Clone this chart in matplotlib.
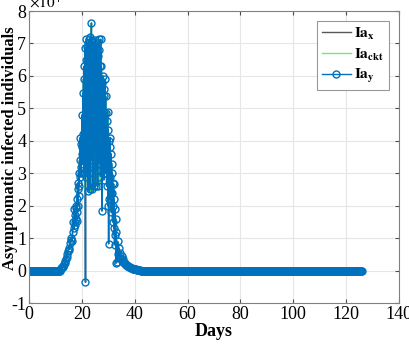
import numpy as np
import matplotlib
matplotlib.use("Agg")
import matplotlib.pyplot as plt

plt.rcParams['font.family'] = ['Liberation Serif', 'DejaVu Serif']
plt.rcParams['mathtext.fontset'] = 'stix'
plt.rcParams['axes.unicode_minus'] = False

# ---- data (units of 1e4 individuals) ----
baseline_before = [0.0] * 48          # days 0.00 .. 11.75 (every 0.25 day)
rise_y = [                            # days 12.00 .. 16.75 (every 0.25 day)
    0.05, 0.08, 0.10, 0.12, 0.15, 0.20, 0.22, 0.30,
    0.35, 0.50, 0.42, 0.60, 0.70, 0.65, 0.85, 0.95,
    1.00, 0.90, 1.20, 1.50,
]
peak_y = [                            # days 17.000 .. 32.875 (every 0.125 day)
    1.30, 1.90, 1.50, 1.70, 1.40, 2.00, 1.60, 1.94,   # 17
    1.53, 2.20, 1.80, 2.70, 2.00, 2.50, 2.30, 3.00,   # 18
    2.60, 3.40, 2.90, 4.10, 3.20, 3.90, 3.00, 3.60,   # 19
    3.80, 4.80, 3.30, 5.47, 4.20, 5.90, 3.00, 6.30,   # 20
    4.00, 6.87, 3.50, -0.36, 6.50, 2.90, 7.13, 4.40,  # 21
    6.90, 3.20, 7.00, 2.46, 6.60, 4.10, 7.13, 3.00,   # 22
    6.80, 2.50, 7.20, 4.50, 6.90, 7.63, 3.40, 7.10,   # 23
    2.50, 6.70, 5.00, 7.05, 2.60, 6.40, 3.80, 7.10,   # 24
    4.60, 6.90, 2.60, 6.50, 5.40, 7.00, 3.10, 6.20,   # 25
    2.60, 6.60, 4.90, 7.13, 3.30, 6.80, 5.10, 6.30,   # 26
    2.90, 7.13, 4.40, 6.30, 5.80, 1.84, 5.78, 3.90,   # 27
    6.00, 3.60, 5.60, 2.80, 5.37, 4.20, 5.90, 3.00,   # 28
    5.37, 3.50, 4.86, 2.60, 4.60, 3.10, 4.90, 2.00,   # 29
    4.33, 0.83, 4.00, 2.20, 3.80, 2.90, 4.10, 2.40,   # 30
    3.60, 1.80, 3.30, 2.40, 3.00, 1.50, 2.70, 2.00,   # 31
    2.67, 1.30, 2.20, 0.80, 1.90, 1.10, 1.60, 0.23,   # 32
]
peak_ckt = [
    1.30, 1.90, 1.50, 1.70, 1.40, 2.00, 1.60, 1.94,
    1.53, 2.20, 1.80, 2.70, 2.00, 2.50, 2.30, 3.00,
    2.60, 3.40, 2.90, 4.10, 3.20, 3.90, 3.00, 3.60,
    3.80, 4.80, 3.30, 5.47, 4.20, 5.90, 3.00, 6.30,
    4.00, 6.87, 3.50, 2.50, 6.50, 2.90, 7.13, 4.40,
    6.90, 3.20, 7.00, 2.46, 6.60, 2.40, 7.13, 3.00,
    6.80, 2.50, 7.20, 2.45, 6.90, 7.63, 2.40, 7.10,
    2.50, 6.70, 2.55, 7.05, 2.60, 6.40, 2.50, 7.10,
    2.60, 6.90, 2.60, 6.50, 2.70, 7.00, 3.10, 6.20,
    2.60, 6.60, 2.60, 7.13, 3.30, 6.80, 2.70, 6.30,
    2.90, 7.13, 4.40, 6.30, 5.80, 1.84, 5.78, 3.90,
    6.00, 3.60, 5.60, 2.80, 5.37, 4.20, 5.90, 3.00,
    5.37, 3.50, 4.86, 2.60, 4.60, 3.10, 4.90, 2.00,
    4.33, 0.83, 4.00, 2.20, 3.80, 2.90, 4.10, 2.40,
    3.60, 1.80, 3.30, 2.40, 3.00, 1.50, 2.70, 2.00,
    2.67, 1.30, 2.20, 0.80, 1.90, 1.10, 1.60, 0.23,
]
fall_y = [                            # days 33.00 .. 42.00 (every 0.25 day)
    1.20, 0.26, 0.90, 0.50, 0.70, 0.40, 0.55, 0.35,
    0.45, 0.30, 0.35, 0.28, 0.25, 0.22, 0.20, 0.18,
    0.16, 0.15, 0.13, 0.12, 0.10, 0.10, 0.09, 0.08,
    0.07, 0.06, 0.06, 0.05, 0.05, 0.04, 0.04, 0.03,
    0.03, 0.03, 0.02, 0.02, 0.01,
]
baseline_after = [0.0] * 336         # days 42.25 .. 126.00 (every 0.25 day)

days = np.concatenate([np.arange(0, 17, 0.25),
                       np.arange(17, 33, 0.125),
                       np.arange(33, 126.001, 0.25)])
ia_y = np.array(baseline_before + rise_y + peak_y + fall_y + baseline_after)
ia_ckt = np.array(baseline_before + rise_y + peak_ckt + fall_y + baseline_after)
ia_x = np.array(baseline_before + rise_y + peak_y + fall_y + baseline_after)

xticks = [0, 20, 40, 60, 80, 100, 120, 140]
yticks = [-1, 0, 1, 2, 3, 4, 5, 6, 7, 8]

fig = plt.figure(figsize=(4.09, 3.44), dpi=100)
ax = fig.add_axes([0.0709, 0.119, 0.9047, 0.849])

blue = (0.0, 0.447, 0.741)
ax.plot(days, ia_x, color=(0.35, 0.35, 0.35), lw=1.0, label=r'$\mathbf{Ia_x}$')
ax.plot(days, ia_ckt, color=(0.45, 0.9, 0.45), lw=1.0, label=r'$\mathbf{Ia_{ckt}}$')
ax.plot(days, ia_y, color=blue, lw=1.0, marker='o', ms=5, mfc='none', mew=1.0,
        label=r'$\mathbf{Ia_y}$')

ax.set_xlim(0, 140)
ax.set_ylim(-1, 8)
ax.set_xticks(xticks)
ax.set_yticks(yticks)
ax.tick_params(direction='in', top=True, right=True, labelsize=13, length=3,
               color=(0.3, 0.3, 0.3), pad=2)
ax.grid(True, color=(0.9, 0.9, 0.9), lw=0.8)
ax.set_axisbelow(True)
for s in ax.spines.values():
    s.set_color((0.5, 0.5, 0.5))
    s.set_linewidth(0.8)

ax.set_xlabel('Days', fontsize=13, fontweight='bold', labelpad=0)
ax.set_ylabel('Asymptomatic infected individuals', fontsize=11.8, fontweight='bold')
ax.yaxis.set_label_coords(-0.031, 0.53)
ax.text(0.0, 1.0, r'$\times10^4$', transform=ax.transAxes, fontsize=11,
        ha='left', va='bottom')

leg = ax.legend(loc='upper right', bbox_to_anchor=(0.972, 0.965), fontsize=11,
                fancybox=False, edgecolor=(0.6, 0.6, 0.6), framealpha=1,
                handlelength=1.9, borderpad=0.3, labelspacing=0.3, handletextpad=0.2,
                borderaxespad=0)
leg.get_frame().set_linewidth(0.8)

fig.savefig('out.png', dpi=100)
